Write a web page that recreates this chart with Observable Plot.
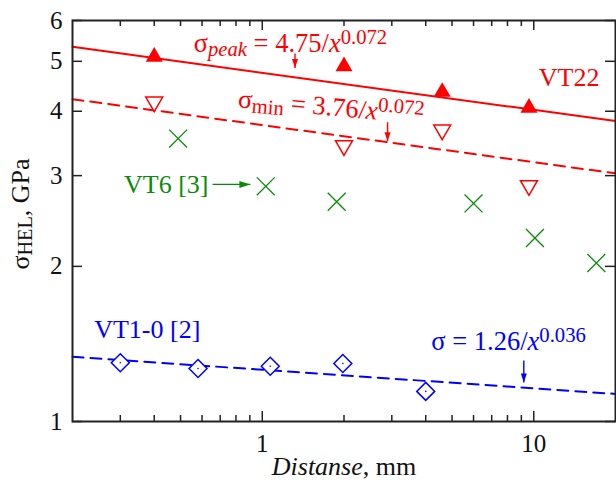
<!DOCTYPE html>
<html><head><meta charset="utf-8">
<script src="https://cdn.jsdelivr.net/npm/d3@7"></script>
<script src="https://cdn.jsdelivr.net/npm/@observablehq/plot@0.6"></script>
<style>
body{margin:0;background:#fff;}
#chart svg{display:block;}
</style></head><body><div id="chart"></div>
<script>
// ---- data ----
const peakX = [0.4, 2.0, 4.6, 9.6];
const peakY = [5.10, 4.89, 4.36, 4.06];
const minX = [0.4, 2.0, 4.6, 9.6];
const minY = [4.17, 3.43, 3.68, 2.87];
const vt6X = [0.49, 1.03, 1.88, 6.0, 10.1, 17.0];
const vt6Y = [3.54, 2.86, 2.67, 2.65, 2.27, 2.03];
const vt1X = [0.30, 0.58, 1.07, 1.98, 4.0];
const vt1Y = [1.30, 1.267, 1.28, 1.296, 1.144];
// fitted power laws sigma = A / x^B
const fitName = ["peak", "min", "vt1"];
const fitA = [4.75, 3.76, 1.26];
const fitB = [0.072, 0.072, 0.036];
// ticks
const xDomain = [0.2, 20];
const yDomain = [1, 6];
const xMajor = [1, 10];
const xMinor = [0.3, 0.4, 0.5, 0.6, 0.7, 0.8, 0.9, 2, 3, 4, 5, 6, 7, 8, 9];
const yTicks = [1, 2, 3, 4, 5, 6];
// annotations (text, x, y in data units)
const labelText = ["σ_[peak] = 4.75/*x*^{0.072}", "σ_{min} = 3.76/*x*^{0.072}", "VT22", "VT6 [3]", "VT1-0 [2]", "σ = 1.26/*x*^{0.036}"];
const labelX = [0.559, 0.81, 10.43, 0.3096, 0.2404, 4.195];
const labelY = [5.21, 4.07, 4.47, 2.772, 1.449, 1.374];
const labelColor = ["red", "red", "red", "green", "blue", "blue"];
const arrowX1 = [1.32, 2.894, 9.19, 0.656];
const arrowX2 = [1.32, 2.894, 9.19, 0.904];
const arrowY1 = [5.18, 3.81, 1.313, 2.885];
const arrowY2 = [4.85, 3.50, 1.19, 2.885];
const arrowColor = ["red", "red", "blue", "green"];
const arrowDir = ["down", "down", "down", "right"];

const RED = "#ff0000", GREEN = "#0a8a0a", BLUE = "#0000ff";
const colorMap = {red: RED, green: GREEN, blue: BLUE};

const W = 616, H = 480, mL = 72, mR = 1, mT = 20, mB = 59;
const fw = W - mL - mR, fh = H - mT - mB;

const pts = (xs, ys) => xs.map((x, i) => ({x, y: ys[i]}));
const fitLines = fitName.flatMap((n, i) => xDomain.map(x => ({name: n, x, y: fitA[i] / Math.pow(x, fitB[i])})));
const labels = labelText.map((t, i) => ({t, x: labelX[i], y: labelY[i], c: colorMap[labelColor[i]]}));
const arrows = arrowX1.map((x1, i) => ({x1, x2: arrowX2[i], y1: arrowY1[i], y2: arrowY2[i], c: colorMap[arrowColor[i]], d: arrowDir[i]}));

const triDown = {draw(ctx, size) {
  const y = Math.sqrt(size / (3 * Math.sqrt(3))), s = Math.sqrt(3);
  ctx.moveTo(0, 2 * y); ctx.lineTo(s * y, -y); ctx.lineTo(-s * y, -y); ctx.closePath();
}};
const headDown = {draw(ctx) { ctx.moveTo(0, 0); ctx.lineTo(3, -9); ctx.lineTo(-3, -9); ctx.closePath(); }};
const headRight = {draw(ctx) { ctx.moveTo(0, 0); ctx.lineTo(-11, -3.5); ctx.lineTo(-11, 3.5); ctx.closePath(); }};

const plot = Plot.plot({
  width: W, height: H,
  marginLeft: mL, marginRight: mR, marginTop: mT, marginBottom: mB,
  style: {fontFamily: "'Liberation Serif', 'Times New Roman', serif", background: "#fff", overflow: "visible"},
  x: {type: "log", domain: xDomain},
  y: {type: "log", domain: yDomain},
  marks: [
    // fitted lines
    Plot.line(fitLines.filter(d => d.name === "peak"), {x: "x", y: "y", stroke: RED, strokeWidth: 2}),
    Plot.line(fitLines.filter(d => d.name === "min"), {x: "x", y: "y", stroke: RED, strokeWidth: 2, strokeDasharray: "11,7"}),
    Plot.line(fitLines.filter(d => d.name === "vt1"), {x: "x", y: "y", stroke: BLUE, strokeWidth: 2, strokeDasharray: "11,7"}),
    // data markers
    Plot.dot(pts(peakX, peakY), {x: "x", y: "y", symbol: "triangle", r: 6.3, fill: RED, stroke: "none"}),
    Plot.dot(pts(minX, minY), {x: "x", y: "y", symbol: triDown, r: 6.3, fill: "white", stroke: RED, strokeWidth: 1.5}),
    Plot.dot(pts(vt6X, vt6Y), {x: "x", y: "y", symbol: "times", r: 8.2, stroke: GREEN, strokeWidth: 1.3}),
    Plot.dot(pts(vt1X, vt1Y), {x: "x", y: "y", symbol: "diamond2", r: 8.1, fill: "white", stroke: BLUE, strokeWidth: 1.5}),
    Plot.dot(pts(vt1X, vt1Y), {x: "x", y: "y", r: 0.8, fill: BLUE, stroke: "none"}),
    // arrows
    Plot.link(arrows, {x1: "x1", y1: "y1", x2: "x2", y2: "y2", stroke: "c", strokeWidth: 1.4}),
    Plot.dot(arrows.filter(d => d.d === "down"), {x: "x2", y: "y2", symbol: headDown, fill: "c", stroke: "none"}),
    Plot.dot(arrows.filter(d => d.d === "right"), {x: "x2", y: "y2", symbol: headRight, fill: "c", stroke: "none"}),
    // annotation texts
    Plot.text(labels.filter((d, i) => i === 0 || i === 5), {x: "x", y: "y", text: "t", fill: "c", fontSize: 26.5, textAnchor: "start", lineAnchor: "bottom"}),
    Plot.text(labels.filter((d, i) => i === 1), {x: "x", y: "y", text: "t", fill: "c", fontSize: 26.5, textAnchor: "start", lineAnchor: "bottom", rotate: 5}),
    Plot.text(labels.filter((d, i) => i >= 2 && i <= 4), {x: "x", y: "y", text: "t", fill: "c", fontSize: 26, textAnchor: "start", lineAnchor: "bottom"}),
    // inward ticks on all four sides
    Plot.tickX(xMajor, {x: d => d, insetTop: fh - 10, stroke: "#222", strokeWidth: 1.5}),
    Plot.tickX(xMinor, {x: d => d, insetTop: fh - 6, stroke: "#222", strokeWidth: 1.5}),
    Plot.tickX(xMajor, {x: d => d, insetBottom: fh - 10, stroke: "#222", strokeWidth: 1.5}),
    Plot.tickX(xMinor, {x: d => d, insetBottom: fh - 6, stroke: "#222", strokeWidth: 1.5}),
    Plot.tickY(yTicks, {y: d => d, insetRight: fw - 10, stroke: "#222", strokeWidth: 1.5}),
    Plot.tickY(yTicks, {y: d => d, insetLeft: fw - 10, stroke: "#222", strokeWidth: 1.5}),
    // tick labels
    Plot.axisX({ticks: xMajor, tickSize: 0, tickPadding: 13, tickFormat: d => String(d), fontSize: 25, label: null, fill: "#111"}),
    Plot.axisY({ticks: yTicks, tickSize: 0, tickPadding: 10, tickFormat: d => String(d), fontSize: 25, label: null, fill: "#111"}),
    // axis titles
    Plot.text(["*Distanse*, mm"], {text: d => d, frameAnchor: "bottom", dy: 53, lineAnchor: "bottom", textAnchor: "middle", fontSize: 26, fill: "#111"}),
    Plot.text(["σ_{HEL}, GPa"], {text: d => d, frameAnchor: "left", dx: -44, dy: -7, rotate: -90, lineAnchor: "bottom", textAnchor: "middle", fontSize: 26, fill: "#111"}),
    Plot.frame({stroke: "#222", strokeWidth: 2})
  ]
});
document.getElementById("chart").appendChild(plot);

// rich-text post-processing: _{sub} _[italic sub] ^{sup} *italic*
const NS = "http://www.w3.org/2000/svg";
d3.select(plot).selectAll("text").each(function() {
  const str = this.textContent;
  if (!/(_\{|_\[|\^\{|\*)/.test(str)) return;
  const fs = parseFloat(getComputedStyle(this).fontSize) || 24;
  const parts = str.split(/(_\{[^}]*\}|_\[[^\]]*\]|\^\{[^}]*\}|\*[^*]*\*)/).filter(s => s !== "");
  this.textContent = "";
  let cur = 0;
  for (const p of parts) {
    const t = document.createElementNS(NS, "tspan");
    let target = 0, txt = p;
    if (p.startsWith("_{") || p.startsWith("_[")) {
      txt = p.slice(2, -1); target = fs * 0.15;
      t.setAttribute("font-size", fs * 0.78);
      if (p.startsWith("_[")) t.setAttribute("font-style", "italic");
    } else if (p.startsWith("^{")) {
      txt = p.slice(2, -1); target = -fs * 0.32;
      t.setAttribute("font-size", fs * 0.78);
    } else if (p.startsWith("*")) {
      txt = p.slice(1, -1);
      t.setAttribute("font-style", "italic");
    }
    if (target !== cur) { t.setAttribute("dy", target - cur); cur = target; }
    t.textContent = txt;
    this.appendChild(t);
  }
});
</script></body></html>
